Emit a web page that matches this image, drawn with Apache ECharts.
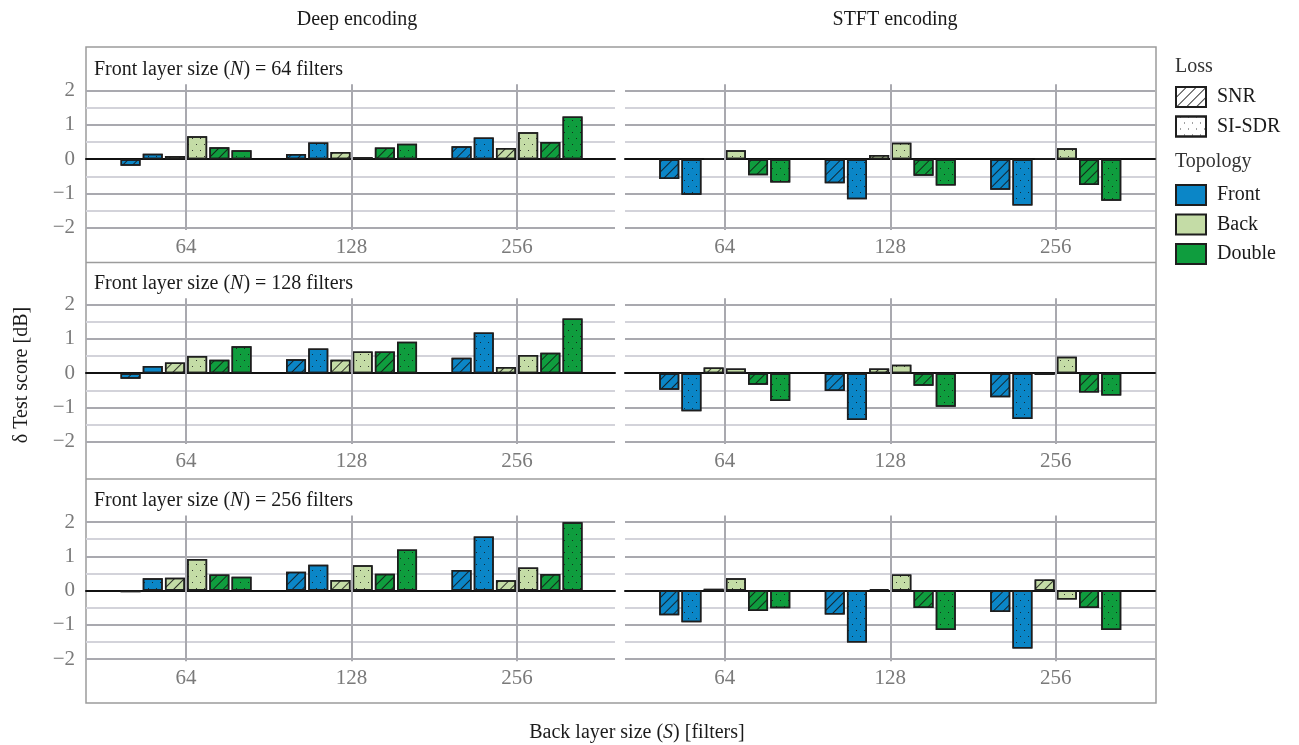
<!DOCTYPE html>
<html>
<head>
<meta charset="utf-8">
<script src="https://cdn.jsdelivr.net/npm/echarts@6/dist/echarts.min.js"></script>
<style>
html,body{margin:0;padding:0;background:#fff;}
#chart{width:1299px;height:745px;}
</style>
</head>
<body>
<div id="chart"></div>
<script>
// ---------------- data ----------------
const backSizes = ['64', '128', '256'];          // x categories (Back layer size S)
const frontSizes = ['64', '128', '256'];         // panel rows (Front layer size N)
const encodings = ['Deep encoding', 'STFT encoding'];
const topologies = ['Front', 'Back', 'Double'];
const losses = ['SNR', 'SI-SDR'];
const yTicks = [-2, -1, 0, 1, 2];

// each array: rows = N (64,128,256), cols = S (64,128,256)
const deep_front_snr    = [[-0.19, 0.15, 0.38], [-0.16, 0.41, 0.45], [-0.05, 0.55, 0.60]];
const deep_front_sisdr  = [[0.16, 0.49, 0.63], [0.21, 0.72, 1.19], [0.36, 0.75, 1.58]];
const deep_back_snr     = [[0.09, 0.21, 0.33], [0.31, 0.39, 0.18], [0.37, 0.31, 0.30]];
const deep_back_sisdr   = [[0.67, 0.06, 0.79], [0.50, 0.63, 0.53], [0.92, 0.74, 0.67]];
const deep_double_snr   = [[0.35, 0.34, 0.50], [0.39, 0.63, 0.60], [0.47, 0.49, 0.48]];
const deep_double_sisdr = [[0.26, 0.45, 1.25], [0.79, 0.92, 1.60], [0.40, 1.20, 1.99]];

const stft_front_snr    = [[-0.58, -0.70, -0.89], [-0.48, -0.52, -0.70], [-0.72, -0.70, -0.63]];
const stft_front_sisdr  = [[-1.04, -1.17, -1.35], [-1.11, -1.37, -1.34], [-0.93, -1.52, -1.69]];
const stft_back_snr     = [[0.03, 0.12, 0.01], [0.17, 0.14, -0.05], [0.05, 0.04, 0.32]];
const stft_back_sisdr   = [[0.26, 0.48, 0.32], [0.14, 0.25, 0.48], [0.36, 0.47, -0.26]];
const stft_double_snr   = [[-0.47, -0.48, -0.75], [-0.34, -0.37, -0.56], [-0.60, -0.51, -0.51]];
const stft_double_sisdr = [[-0.68, -0.77, -1.21], [-0.81, -0.98, -0.65], [-0.52, -1.15, -1.15]];

// ---------------- lookup built from the arrays ----------------
const table = [
  { Front: { 'SNR': deep_front_snr, 'SI-SDR': deep_front_sisdr },
    Back: { 'SNR': deep_back_snr, 'SI-SDR': deep_back_sisdr },
    Double: { 'SNR': deep_double_snr, 'SI-SDR': deep_double_sisdr } },
  { Front: { 'SNR': stft_front_snr, 'SI-SDR': stft_front_sisdr },
    Back: { 'SNR': stft_back_snr, 'SI-SDR': stft_back_sisdr },
    Double: { 'SNR': stft_double_snr, 'SI-SDR': stft_double_sisdr } }
];

// ---------------- styles ----------------
const FONT = '"Liberation Serif", "DejaVu Serif", serif';
const topoColor = { Front: '#0b86c7', Back: '#c4dca6', Double: '#0f9d3e' };
const hatchDecal = {
  symbol: 'rect', symbolSize: 1, color: 'rgba(20,20,20,0.85)',
  dashArrayX: [1, 0], dashArrayY: [1, 5.6], rotation: -Math.PI / 4
};
const dotDecal = {
  symbol: 'rect', symbolSize: 1, color: 'rgba(20,20,20,0.8)',
  dashArrayX: [[1, 7], [0, 4, 1, 3]], dashArrayY: [1, 4.5], rotation: 0
};
const lossDecal = { 'SNR': hatchDecal, 'SI-SDR': dotDecal };

// ---------------- layout ----------------
const rowY2 = [90.7, 304.7, 522];   // pixel of value +2 in each row
const plotH = 137;                  // pixels from +2 to -2
const pxPerUnit = plotH / 4;
const bgCols = [[86, 529], [625, 530]];
const barCols = [[103.3, 496.5], [642, 496.5]];
const extTop = 6.4, extBot = 2.3;

const grids = [], xAxes = [], yAxes = [], series = [], titles = [];

for (let r = 0; r < frontSizes.length; r++) {
  for (let c = 0; c < encodings.length; c++) {
    const p = r * 2 + c;
    const gi = grids.length;
    // background grid: horizontal grid lines, zero line, y labels
    grids.push({ left: bgCols[c][0], width: bgCols[c][1], top: rowY2[r], height: plotH });
    xAxes.push({
      gridIndex: gi, type: 'value', min: 0, max: 1, show: true,
      axisLine: { show: true, onZero: true, lineStyle: { color: '#111', width: 2 } },
      axisTick: { show: false }, axisLabel: { show: false }, splitLine: { show: false }
    });
    yAxes.push({
      gridIndex: gi, type: 'value', min: -2, max: 2, interval: 0.5,
      axisLine: { show: false }, axisTick: { show: false },
      axisLabel: {
        show: c === 0, margin: 11, color: '#7a7a7a', fontSize: 21, fontFamily: FONT,
        formatter: v => (yTicks.indexOf(v) >= 0 ? (v < 0 ? '\u2212' + Math.abs(v) : String(v)) : '')
      },
      splitLine: { show: true, lineStyle: { color: ['#a9a9af', '#d3d3da'], width: 2 } }
    });
    // bar grid
    const bi = grids.length;
    grids.push({ left: barCols[c][0], width: barCols[c][1], top: rowY2[r] - extTop, height: plotH + extTop + extBot });
    xAxes.push({
      gridIndex: bi, type: 'category', data: backSizes,
      axisLine: { show: false }, axisTick: { show: false }, splitLine: { show: false },
      axisLabel: { show: true, margin: 7, color: '#7a7a7a', fontSize: 21, fontFamily: FONT }
    });
    yAxes.push({
      gridIndex: bi, type: 'value', min: -2 - extBot / pxPerUnit, max: 2 + extTop / pxPerUnit,
      show: false, splitLine: { show: false }
    });
    // vertical grid lines at category centres
    series.push({
      type: 'line', xAxisIndex: bi, yAxisIndex: bi, data: backSizes.map(() => null), z: 1, silent: true,
      markLine: {
        silent: true, symbol: 'none', label: { show: false }, animation: false,
        lineStyle: { color: '#a9a9af', type: 'solid', width: 2 },
        data: backSizes.map(s => ({ xAxis: s }))
      }
    });
    topologies.forEach(t => {
      losses.forEach(l => {
        series.push({
          type: 'bar', name: t + ' ' + l + ' ' + p, xAxisIndex: bi, yAxisIndex: bi, z: 3,
          barWidth: 20, barGap: '11%', animation: false,
          itemStyle: { color: topoColor[t], borderColor: '#1e1e1e', borderWidth: 1.5, decal: lossDecal[l] },
          data: table[c][t][l][r]
        });
      });
    });
    if (c === 0) {
      titles.push({
        left: 89, top: rowY2[r] - 36,
        text: '{a|Front layer size (}{i|N}{a|) = ' + frontSizes[r] + ' filters}',
        textStyle: { fontWeight: 'normal', rich: {
          a: { fontFamily: FONT, fontSize: 20, color: '#1a1a1a', fontWeight: 'normal' },
          i: { fontFamily: FONT, fontSize: 20, color: '#1a1a1a', fontWeight: 'normal', fontStyle: 'italic' }
        } }
      });
    }
  }
}

// hidden grid for legend entries
const lg = grids.length;
grids.push({ left: 0, top: 0, width: 1, height: 1, show: false });
xAxes.push({ gridIndex: lg, type: 'category', data: ['a'], show: false });
yAxes.push({ gridIndex: lg, type: 'value', show: false });
losses.forEach(l => series.push({
  type: 'bar', name: l, xAxisIndex: lg, yAxisIndex: lg, data: [],
  itemStyle: { color: '#ffffff', borderColor: '#1e1e1e', borderWidth: 1.5, decal: lossDecal[l] }
}));
topologies.forEach(t => series.push({
  type: 'bar', name: t, xAxisIndex: lg, yAxisIndex: lg, data: [],
  itemStyle: { color: topoColor[t], borderColor: '#1e1e1e', borderWidth: 1.5 }
}));

// column headers
encodings.forEach((e, c) => {
  titles.push({
    text: e, left: (c === 0 ? 352 : 890), top: 5, textAlign: 'center',
    textStyle: { fontFamily: FONT, fontSize: 20, fontWeight: 'normal', color: '#1a1a1a' }
  });
});

const legendCommon = {
  orient: 'vertical', left: 1175, itemWidth: 30, itemHeight: 20, itemGap: 7.5, padding: 0,
  selectedMode: false, icon: 'rect',
  textStyle: { fontFamily: FONT, fontSize: 20, color: '#1a1a1a', padding: [0, 0, 0, 6] }
};

const option = {
  backgroundColor: '#ffffff',
  animation: false,
  title: titles,
  grid: grids,
  xAxis: xAxes,
  yAxis: yAxes,
  series: series,
  legend: [
    Object.assign({}, legendCommon, { top: 86, data: losses }),
    Object.assign({}, legendCommon, { top: 184, data: topologies })
  ],
  graphic: [
    { type: 'rect', z: -1, silent: true, shape: { x: 86, y: 47, width: 1070, height: 656 },
      style: { fill: 'none', stroke: '#9c9c9c', lineWidth: 1.5 } },
    { type: 'line', silent: true, shape: { x1: 86, y1: 262.5, x2: 1156, y2: 262.5 },
      style: { stroke: '#9c9c9c', lineWidth: 1.5 } },
    { type: 'line', silent: true, shape: { x1: 86, y1: 479, x2: 1156, y2: 479 },
      style: { stroke: '#9c9c9c', lineWidth: 1.5 } },
    { type: 'text', silent: true, x: 1175, y: 67,
      style: { text: 'Loss', font: '20px ' + FONT, fill: '#333', verticalAlign: 'middle' } },
    { type: 'text', silent: true, x: 1175, y: 162,
      style: { text: 'Topology', font: '20px ' + FONT, fill: '#333', verticalAlign: 'middle' } },
    { type: 'text', silent: true, x: 22, y: 375, rotation: Math.PI / 2,
      style: { text: '\u03b4 Test score [dB]', font: '20px ' + FONT, fill: '#1a1a1a', align: 'center', verticalAlign: 'middle' } },
    { type: 'text', silent: true, x: 637, y: 733,
      style: {
        text: '{a|Back layer size (}{i|S}{a|) [filters]}', align: 'center', verticalAlign: 'middle',
        rich: {
          a: { fontFamily: FONT, fontSize: 20, fill: '#1a1a1a' },
          i: { fontFamily: FONT, fontSize: 20, fill: '#1a1a1a', fontStyle: 'italic' }
        }
      } }
  ]
};

const chart = echarts.init(document.getElementById('chart'), null, { renderer: 'canvas' });
chart.setOption(option);
</script>
</body>
</html>
